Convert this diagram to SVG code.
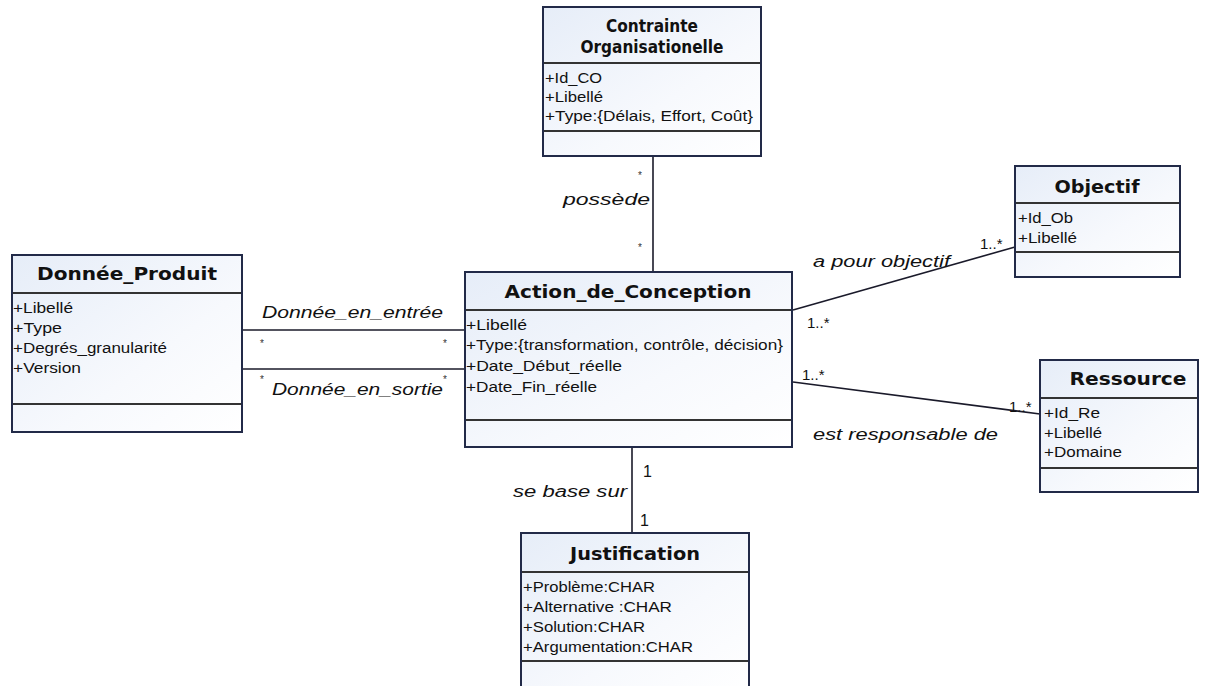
<svg xmlns="http://www.w3.org/2000/svg" width="1210" height="686" viewBox="0 0 1210 686">
<defs>
<linearGradient id="g" x1="0" y1="0" x2="1" y2="1">
<stop offset="0" stop-color="#e6edf8"/>
<stop offset="0.6" stop-color="#f7f9fd"/>
<stop offset="1" stop-color="#ffffff"/>
</linearGradient>
<style>
.box{fill:url(#g);stroke:#222a48;stroke-width:2}
.sep{stroke:#333;stroke-width:2}
.title{font-family:"DejaVu Sans",Verdana,sans-serif;font-weight:bold;font-size:17px;fill:#111;text-anchor:middle}
.attr{font-family:"Liberation Sans",Arial,sans-serif;font-size:14px;fill:#111}
.lbl{font-family:"Liberation Sans",Arial,sans-serif;font-style:italic;font-size:16px;fill:#111}
.mul{font-family:"Liberation Sans",Arial,sans-serif;font-size:15px;fill:#111}
.one{font-family:"Liberation Sans",Arial,sans-serif;font-size:16px;fill:#111}
.star{font-family:"Liberation Sans",Arial,sans-serif;font-size:10px;fill:#333}
.conn{stroke:#1a1a2a;stroke-width:1.6;fill:none}
</style>
</defs>
<rect width="1210" height="686" fill="#ffffff"/>

<g id="connectors">
<line class="conn" x1="653" y1="156" x2="653" y2="272"/>
<line class="conn" x1="242" y1="330" x2="465" y2="330"/>
<line class="conn" x1="242" y1="369" x2="465" y2="369"/>
<line class="conn" x1="793" y1="310" x2="1015" y2="247"/>
<line class="conn" x1="793" y1="382" x2="1040" y2="414"/>
<line class="conn" x1="632" y1="447" x2="632" y2="533"/>
<text class="lbl" x="563" y="205" textLength="87" lengthAdjust="spacingAndGlyphs">possède</text>
<text class="star" x="638" y="179">*</text>
<text class="star" x="638" y="251">*</text>
<text class="lbl" x="262" y="318" textLength="181" lengthAdjust="spacingAndGlyphs">Donnée_en_entrée</text>
<text class="star" x="260" y="347">*</text>
<text class="star" x="443" y="347">*</text>
<text class="star" x="260" y="383">*</text>
<text class="star" x="443" y="383">*</text>
<text class="lbl" x="272" y="395" textLength="171" lengthAdjust="spacingAndGlyphs">Donnée_en_sortie</text>
<text class="lbl" x="813" y="267" textLength="137" lengthAdjust="spacingAndGlyphs">a pour objectif</text>
<text class="mul" x="980" y="249">1..*</text>
<text class="mul" x="807" y="328">1..*</text>
<text class="mul" x="802" y="380">1..*</text>
<text class="mul" x="1009" y="412">1..*</text>
<text class="lbl" x="813" y="440" textLength="185" lengthAdjust="spacingAndGlyphs">est responsable de</text>
<text class="lbl" x="513" y="497" textLength="114" lengthAdjust="spacingAndGlyphs">se base sur</text>
<text class="one" x="643" y="477">1</text>
<text class="one" x="640" y="526">1</text>
</g>

<g id="contrainte">
<rect class="box" x="543" y="7" width="218" height="149"/>
<line class="sep" x1="544" y1="63" x2="760" y2="63"/>
<line class="sep" x1="544" y1="131" x2="760" y2="131"/>
<text class="title" x="652" y="32" font-size="15" textLength="92" lengthAdjust="spacingAndGlyphs">Contrainte</text>
<text class="title" x="652" y="53" font-size="15" textLength="143" lengthAdjust="spacingAndGlyphs">Organisationelle</text>
<text class="attr" x="545" y="83" textLength="57" lengthAdjust="spacingAndGlyphs">+Id_CO</text>
<text class="attr" x="545" y="102" textLength="58" lengthAdjust="spacingAndGlyphs">+Libellé</text>
<text class="attr" x="545" y="121" textLength="208" lengthAdjust="spacingAndGlyphs">+Type:{Délais, Effort, Coût}</text>
</g>

<g id="objectif">
<rect class="box" x="1015" y="166" width="165" height="111"/>
<line class="sep" x1="1016" y1="203" x2="1179" y2="203"/>
<line class="sep" x1="1016" y1="252" x2="1179" y2="252"/>
<text class="title" x="1097" y="193" textLength="85" lengthAdjust="spacingAndGlyphs">Objectif</text>
<text class="attr" x="1018" y="223" textLength="55" lengthAdjust="spacingAndGlyphs">+Id_Ob</text>
<text class="attr" x="1018" y="243" textLength="59" lengthAdjust="spacingAndGlyphs">+Libellé</text>
</g>

<g id="donnee_produit">
<rect class="box" x="12" y="255" width="230" height="177"/>
<line class="sep" x1="13" y1="293" x2="241" y2="293"/>
<line class="sep" x1="13" y1="404" x2="241" y2="404"/>
<text class="title" x="127" y="280" textLength="180" lengthAdjust="spacingAndGlyphs">Donnée_Produit</text>
<text class="attr" x="13" y="313" textLength="60" lengthAdjust="spacingAndGlyphs">+Libellé</text>
<text class="attr" x="13" y="333" textLength="49" lengthAdjust="spacingAndGlyphs">+Type</text>
<text class="attr" x="13" y="353" textLength="154" lengthAdjust="spacingAndGlyphs">+Degrés_granularité</text>
<text class="attr" x="13" y="373" textLength="68" lengthAdjust="spacingAndGlyphs">+Version</text>
</g>

<g id="action_de_conception">
<rect class="box" x="465" y="272" width="327" height="175"/>
<line class="sep" x1="466" y1="310" x2="791" y2="310"/>
<line class="sep" x1="466" y1="420" x2="791" y2="420"/>
<text class="title" x="628" y="298" textLength="247" lengthAdjust="spacingAndGlyphs">Action_de_Conception</text>
<text class="attr" x="466" y="330" textLength="61" lengthAdjust="spacingAndGlyphs">+Libellé</text>
<text class="attr" x="466" y="350" textLength="317" lengthAdjust="spacingAndGlyphs">+Type:{transformation, contrôle, décision}</text>
<text class="attr" x="466" y="371" textLength="156" lengthAdjust="spacingAndGlyphs">+Date_Début_réelle</text>
<text class="attr" x="466" y="392" textLength="131" lengthAdjust="spacingAndGlyphs">+Date_Fin_réelle</text>
</g>

<g id="ressource">
<rect class="box" x="1040" y="360" width="158" height="132"/>
<line class="sep" x1="1041" y1="398" x2="1197" y2="398"/>
<line class="sep" x1="1041" y1="468" x2="1197" y2="468"/>
<text class="title" x="1128" y="385" textLength="117" lengthAdjust="spacingAndGlyphs">Ressource</text>
<text class="attr" x="1044" y="418" textLength="56" lengthAdjust="spacingAndGlyphs">+Id_Re</text>
<text class="attr" x="1044" y="438" textLength="58" lengthAdjust="spacingAndGlyphs">+Libellé</text>
<text class="attr" x="1044" y="457" textLength="78" lengthAdjust="spacingAndGlyphs">+Domaine</text>
</g>

<g id="justification">
<rect class="box" x="521" y="533" width="228" height="160"/>
<line class="sep" x1="522" y1="572" x2="748" y2="572"/>
<line class="sep" x1="522" y1="661" x2="748" y2="661"/>
<text class="title" x="635" y="560" textLength="130" lengthAdjust="spacingAndGlyphs">Justification</text>
<text class="attr" x="523" y="592" textLength="132" lengthAdjust="spacingAndGlyphs">+Problème:CHAR</text>
<text class="attr" x="523" y="612" textLength="149" lengthAdjust="spacingAndGlyphs">+Alternative :CHAR</text>
<text class="attr" x="523" y="632" textLength="122" lengthAdjust="spacingAndGlyphs">+Solution:CHAR</text>
<text class="attr" x="523" y="652" textLength="170" lengthAdjust="spacingAndGlyphs">+Argumentation:CHAR</text>
</g>
</svg>
